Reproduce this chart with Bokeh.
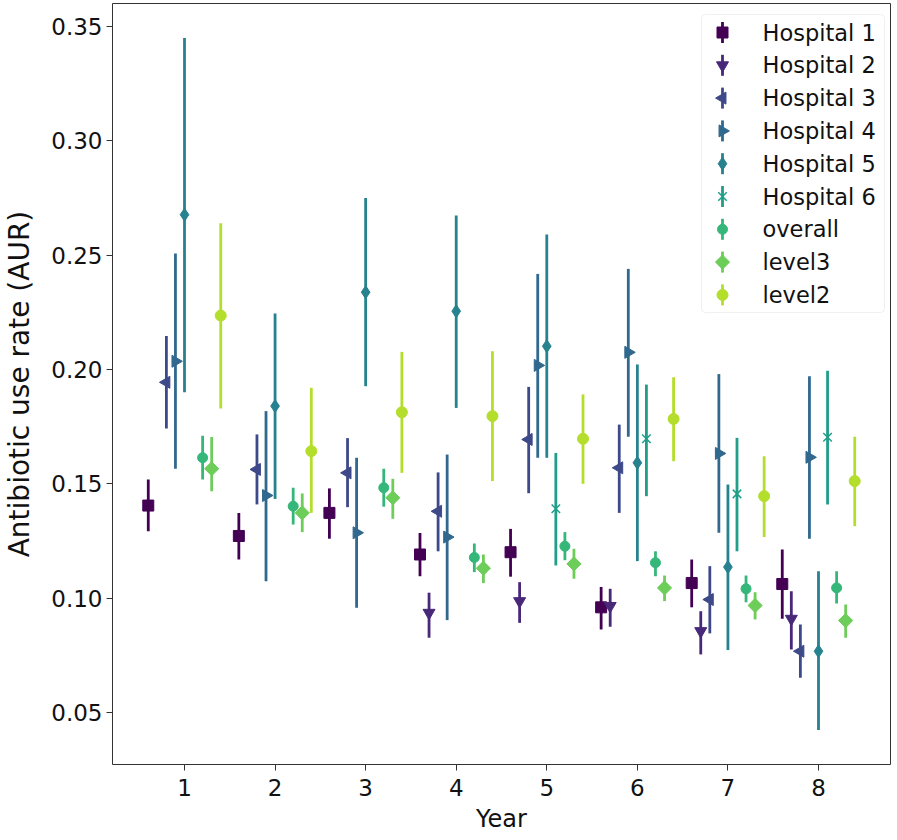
import math
from bokeh.plotting import figure
from bokeh.models import Range1d, FixedTicker, PrintfTickFormatter, BoxAnnotation, ColumnDataSource
from bokeh.core.properties import value
from bokeh.embed import file_html
from bokeh.resources import INLINE

# ---------------- data ----------------
series_names = ["Hospital 1", "Hospital 2", "Hospital 3", "Hospital 4", "Hospital 5",
                "Hospital 6", "overall", "level3", "level2"]
series_colors = ["#440154", "#482878", "#3E4989", "#31688E", "#26828E",
                 "#1F9E89", "#35B779", "#6DCD59", "#B4DE2C"]

h1_years = [1, 2, 3, 4, 5, 6, 7, 8]
h1_mean = [0.1405, 0.1272, 0.1373, 0.1191, 0.1201, 0.0960, 0.1066, 0.1062]
h1_low = [0.1293, 0.1169, 0.1260, 0.1096, 0.1094, 0.0863, 0.0960, 0.0910]
h1_high = [0.1519, 0.1373, 0.1480, 0.1285, 0.1303, 0.1049, 0.1169, 0.1213]

h2_years = [4, 5, 6, 7, 8]
h2_mean = [0.0936, 0.0987, 0.0966, 0.0856, 0.0910]
h2_low = [0.0827, 0.0892, 0.0875, 0.0754, 0.0776]
h2_high = [0.1024, 0.1070, 0.1041, 0.0943, 0.1030]

h3_years = [1, 2, 3, 4, 5, 6, 7, 8]
h3_mean = [0.1944, 0.1563, 0.1548, 0.1380, 0.1694, 0.1570, 0.0994, 0.0768]
h3_low = [0.1742, 0.1410, 0.1398, 0.1205, 0.1459, 0.1373, 0.0846, 0.0652]
h3_high = [0.2146, 0.1716, 0.1700, 0.1550, 0.1924, 0.1759, 0.1140, 0.0885]

h4_years = [1, 2, 3, 4, 5, 6, 7, 8]
h4_mean = [0.2036, 0.1449, 0.1286, 0.1267, 0.2018, 0.2075, 0.1633, 0.1616]
h4_low = [0.1566, 0.1074, 0.0958, 0.0904, 0.1614, 0.1706, 0.1286, 0.1260]
h4_high = [0.2507, 0.1818, 0.1614, 0.1628, 0.2418, 0.2440, 0.1980, 0.1970]

h5_years = [1, 2, 3, 4, 5, 6, 7, 8]
h5_mean = [0.2677, 0.1840, 0.2338, 0.2255, 0.2102, 0.1592, 0.1136, 0.0768]
h5_low = [0.1900, 0.1434, 0.1927, 0.1832, 0.1614, 0.1162, 0.0773, 0.0423]
h5_high = [0.3450, 0.2245, 0.2750, 0.2673, 0.2590, 0.2022, 0.1497, 0.1118]

h6_years = [5, 6, 7, 8]
h6_mean = [0.1391, 0.1697, 0.1456, 0.1704]
h6_low = [0.1143, 0.1446, 0.1205, 0.1410]
h6_high = [0.1635, 0.1934, 0.1701, 0.1995]

overall_years = [1, 2, 3, 4, 5, 6, 7, 8]
overall_mean = [0.1614, 0.1402, 0.1483, 0.1178, 0.1227, 0.1155, 0.1041, 0.1045]
overall_low = [0.1519, 0.1322, 0.1400, 0.1114, 0.1166, 0.1096, 0.0982, 0.0977]
overall_high = [0.1710, 0.1483, 0.1566, 0.1239, 0.1289, 0.1205, 0.1099, 0.1118]

level3_years = [1, 2, 3, 4, 5, 6, 7, 8]
level3_mean = [0.1566, 0.1373, 0.1439, 0.1131, 0.1150, 0.1045, 0.0968, 0.0902]
level3_low = [0.1468, 0.1289, 0.1347, 0.1066, 0.1085, 0.0987, 0.0907, 0.0827]
level3_high = [0.1705, 0.1458, 0.1522, 0.1191, 0.1216, 0.1099, 0.1026, 0.0972]

level2_years = [1, 2, 3, 4, 5, 6, 7, 8]
level2_mean = [0.2236, 0.1643, 0.1813, 0.1796, 0.1697, 0.1784, 0.1446, 0.1512]
level2_low = [0.1830, 0.1373, 0.1548, 0.1512, 0.1500, 0.1599, 0.1268, 0.1315]
level2_high = [0.2640, 0.1920, 0.2077, 0.2080, 0.1891, 0.1966, 0.1621, 0.1706]

x_ticks = [1, 2, 3, 4, 5, 6, 7, 8]
y_ticks = [0.05, 0.10, 0.15, 0.20, 0.25, 0.30, 0.35]

all_series = [
    (h1_years, h1_mean, h1_low, h1_high),
    (h2_years, h2_mean, h2_low, h2_high),
    (h3_years, h3_mean, h3_low, h3_high),
    (h4_years, h4_mean, h4_low, h4_high),
    (h5_years, h5_mean, h5_low, h5_high),
    (h6_years, h6_mean, h6_low, h6_high),
    (overall_years, overall_mean, overall_low, overall_high),
    (level3_years, level3_mean, level3_low, level3_high),
    (level2_years, level2_mean, level2_low, level2_high),
]

# ---------------- styles ----------------
marker_styles = [
    dict(marker="square", size=11, angle=0.0, lw=1),
    dict(marker="inverted_triangle", size=12, angle=0.0, lw=1),
    dict(marker="triangle", size=12, angle=math.pi / 2, lw=1),
    dict(marker="triangle", size=12, angle=-math.pi / 2, lw=1),
    dict(marker="diamond", size=13, angle=0.0, lw=1),
    dict(marker="x", size=12, angle=0.0, lw=1.5),
    dict(marker="circle", size=10, angle=0.0, lw=1),
    dict(marker="square", size=10, angle=math.pi / 4, lw=1),
    dict(marker="circle", size=11, angle=0.0, lw=1),
]
dodge_step = 0.1
bar_width = 2.8

X_MIN, X_MAX = 0.205, 8.795
Y_MIN, Y_MAX = 0.02726, 0.36006
FRAME_W, FRAME_H = 778, 761
XS = FRAME_W / (X_MAX - X_MIN)
YS = FRAME_H / (Y_MAX - Y_MIN)


def fx(px):
    return X_MIN + px / XS


def fy(py):
    return Y_MAX - py / YS


p = figure(frame_width=FRAME_W, frame_height=FRAME_H,
           x_range=Range1d(X_MIN, X_MAX), y_range=Range1d(Y_MIN, Y_MAX),
           output_backend="svg", toolbar_location=None,
           min_border_left=111, min_border_right=4, min_border_top=3, min_border_bottom=75)

p.background_fill_color = "white"
p.border_fill_color = "white"
p.outline_line_color = "#333333"
p.outline_line_width = 1
p.xgrid.visible = False
p.ygrid.visible = False

for ax in (p.xaxis[0], p.yaxis[0]):
    ax.axis_line_color = None
    ax.major_tick_line_color = "#333333"
    ax.major_tick_line_width = 1
    ax.major_tick_out = 6
    ax.major_tick_in = 0
    ax.minor_tick_line_color = None
    ax.major_label_text_font = "DejaVu Sans"
    ax.major_label_text_font_size = "23px"
    ax.major_label_text_color = "#111111"
    ax.axis_label_text_font = "DejaVu Sans"
    ax.axis_label_text_font_style = "normal"
    ax.axis_label_text_color = "#111111"

p.xaxis.ticker = FixedTicker(ticks=x_ticks)
p.yaxis.ticker = FixedTicker(ticks=y_ticks)
p.yaxis.formatter = PrintfTickFormatter(format="%.2f")
p.xaxis.axis_label = "Year"
p.yaxis.axis_label = "Antibiotic use rate (AUR)"
p.xaxis.axis_label_text_font_size = "24px"
p.yaxis.axis_label_text_font_size = "28px"
p.xaxis.major_label_standoff = 8
p.xaxis.axis_label_standoff = 6
p.yaxis.major_label_standoff = 4
p.yaxis.axis_label_standoff = 12

n_series = len(series_names)
for i, ((yrs, mean, low, high), color, st) in enumerate(zip(all_series, series_colors, marker_styles)):
    off = (i - (n_series - 1) / 2) * dodge_step
    src = ColumnDataSource(dict(x=[yr + off for yr in yrs], mean=mean, low=low, high=high))
    p.segment(x0="x", y0="low", x1="x", y1="high", source=src,
              line_color=color, line_width=bar_width)
    p.scatter(x="x", y="mean", source=src, marker=st["marker"], size=st["size"],
              angle=st["angle"], fill_color=color, line_color=color, line_width=st["lw"])

# ---------------- legend (drawn by hand so the handles look like errorbars) ----------------
LEG_LEFT, LEG_RIGHT, LEG_TOP, LEG_BOTTOM = 589, 772, 11, 309
ROW0, ROW_STEP = 29, 32.8
HANDLE_X, TEXT_X, HALF_BAR = 610, 650, 10.5

p.add_layout(BoxAnnotation(left=fx(LEG_LEFT), right=fx(LEG_RIGHT), top=fy(LEG_TOP), bottom=fy(LEG_BOTTOM),
                           fill_color="white", fill_alpha=0.85, line_color="#cccccc", line_width=1,
                           border_radius=4))

rows = [ROW0 + ROW_STEP * i for i in range(n_series)]
p.text(x=[fx(TEXT_X)] * n_series, y=[fy(r) for r in rows], text=series_names,
       text_font=value("DejaVu Sans"), text_font_size="22.5px", text_color="#111111",
       text_baseline="middle", text_align="left", level="overlay")
for r, color, st in zip(rows, series_colors, marker_styles):
    p.segment(x0=[fx(HANDLE_X)], y0=[fy(r - HALF_BAR)], x1=[fx(HANDLE_X)], y1=[fy(r + HALF_BAR)],
              line_color=color, line_width=bar_width, level="overlay")
    p.scatter(x=[fx(HANDLE_X)], y=[fy(r)], marker=st["marker"], size=st["size"], angle=st["angle"],
              fill_color=color, line_color=color, line_width=st["lw"], level="overlay")

open("out.html", "w").write(file_html(p, INLINE))
